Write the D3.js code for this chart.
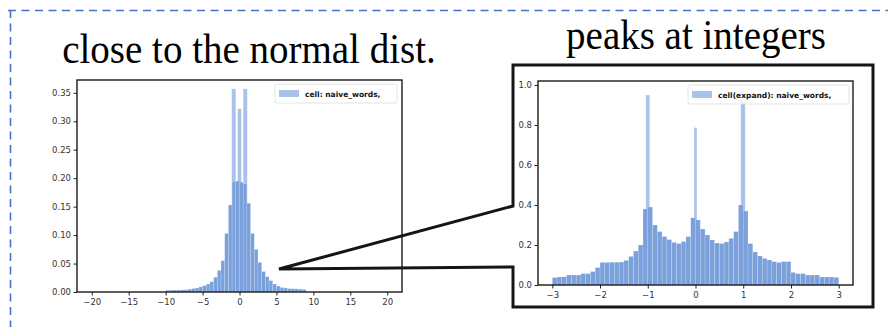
<!DOCTYPE html>
<html>
<head>
<meta charset="utf-8">
<script src="https://cdn.jsdelivr.net/npm/d3@7"></script>
<style>
  body { margin: 0; background: #fff; }
  svg { display: block; }
</style>
</head>
<body>
<svg id="chart" width="888" height="327"></svg>
<script>
// Data

// left panel: bin starts (width 0.5) and densities
const leftBins = [-10, -9.5, -9, -8.5, -8, -7.5, -7, -6.5, -6, -5.5, -5, -4.5, -4, -3.5, -3, -2.5, -2, -1.5, -1, -0.5,
  0, 0.5, 1, 1.5, 2, 2.5, 3, 3.5, 4, 4.5, 5, 5.5, 6, 6.5, 7, 7.5, 8, 8.5, 9, 9.5];
const leftValues = [0.003, 0.0032, 0.0034, 0.0035, 0.0036, 0.004, 0.005, 0.006, 0.007, 0.009, 0.011, 0.014, 0.018, 0.026, 0.038, 0.055, 0.103, 0.153, 0.194, 0.195,
  0.193, 0.19, 0.156, 0.103, 0.075, 0.052, 0.036, 0.027, 0.02, 0.014, 0.0105, 0.008, 0.007, 0.006, 0.0058, 0.0055, 0.005, 0.0045, 0, 0];
const leftBinWidth = 0.5;
const leftSpikeX0 = [-1.05, -0.25, 0.5];
const leftSpikeX1 = [-0.5, 0.25, 1.05];
const leftSpikeValues = [0.357, 0.322, 0.357];
const leftYTicks = [0, 0.05, 0.1, 0.15, 0.2, 0.25, 0.3, 0.35];
const leftXTicks = [-20, -15, -10, -5, 0, 5, 10, 15, 20];

// right panel: bin starts (width 0.1) and densities
const rightBins = [-3.0, -2.9, -2.8, -2.7, -2.6, -2.5, -2.4, -2.3, -2.2, -2.1, -2.0, -1.9, -1.8, -1.7, -1.6, -1.5, -1.4, -1.3, -1.2, -1.1,
  -1.0, -0.9, -0.8, -0.7, -0.6, -0.5, -0.4, -0.3, -0.2, -0.1, 0.0, 0.1, 0.2, 0.3, 0.4, 0.5, 0.6, 0.7, 0.8, 0.9,
  1.0, 1.1, 1.2, 1.3, 1.4, 1.5, 1.6, 1.7, 1.8, 1.9, 2.0, 2.1, 2.2, 2.3, 2.4, 2.5, 2.6, 2.7, 2.8, 2.9];
const rightValues = [0.037, 0.04, 0.041, 0.05, 0.05, 0.05, 0.057, 0.057, 0.067, 0.087, 0.113, 0.113, 0.114, 0.114, 0.115, 0.123, 0.143, 0.17, 0.2, 0.38,
  0.39, 0.3, 0.267, 0.242, 0.227, 0.213, 0.207, 0.217, 0.242, 0.336, 0.325, 0.28, 0.25, 0.225, 0.21, 0.207, 0.215, 0.233, 0.267, 0.4,
  0.37, 0.207, 0.165, 0.145, 0.133, 0.125, 0.117, 0.113, 0.117, 0.117, 0.063, 0.057, 0.057, 0.05, 0.05, 0.05, 0.04, 0.04, 0.04, 0.038];
const rightBinWidth = 0.1;
const rightSpikeX0 = [-1.04, -0.03, 0.95];
const rightSpikeX1 = [-0.96, 0.03, 1.04];
const rightSpikeValues = [0.95, 0.787, 0.97];
const rightYTicks = [0, 0.2, 0.4, 0.6, 0.8, 1.0];
const rightXTicks = [-3, -2, -1, 0, 1, 2, 3];

const titles = ["close to the normal dist.", "peaks at integers"];
const legends = ["cell: naive_words,", "cell(expand): naive_words,"];

// Style

const bodyColor = "#7aa1dc";
const spikeColor = "#a8c2ea";
const svg = d3.select("#chart");

// dashed outer border
svg.append("path")
  .attr("d", "M8,10.5 L888,10.5 M10.5,10 L10.5,327")
  .attr("fill", "none")
  .attr("stroke", "#4472c4")
  .attr("stroke-width", 1.6)
  .attr("stroke-dasharray", "8,5.5");

// titles (slightly tall, like the source image)
svg.append("text")
  .attr("transform", "translate(249,63) scale(1,1.08)")
  .attr("text-anchor", "middle")
  .style("font-family", "'Liberation Serif', 'Times New Roman', serif")
  .style("font-size", "39px")
  .text(titles[0]);
svg.append("text")
  .attr("transform", "translate(696,49) scale(1,1.08)")
  .attr("text-anchor", "middle")
  .style("font-family", "'Liberation Serif', 'Times New Roman', serif")
  .style("font-size", "39px")
  .text(titles[1]);

// zoom callout
svg.append("path")
  .attr("d", "M279,269 L513,206 L513,65 L873,65 L873,307 L513,307 L513,267 Z")
  .attr("fill", "none")
  .attr("stroke", "#151515")
  .attr("stroke-width", 3)
  .attr("stroke-linejoin", "miter");

function drawPanel(p) {
  const x = d3.scaleLinear().domain(p.xDomain).range([p.left, p.right]);
  const y = d3.scaleLinear().domain(p.yDomain).range([p.bottom, p.top]);
  const g = svg.append("g");

  // spikes below the body bars
  g.selectAll("rect.spike")
    .data(p.spikeValues)
    .enter().append("rect")
    .attr("class", "spike")
    .attr("x", (d, i) => x(p.spikeX0[i]))
    .attr("width", (d, i) => x(p.spikeX1[i]) - x(p.spikeX0[i]))
    .attr("y", d => y(d))
    .attr("height", d => y(0) - y(d))
    .attr("fill", spikeColor)
    .attr("stroke", "#fff")
    .attr("stroke-opacity", 0.35)
    .attr("stroke-width", 0.5);

  g.selectAll("rect.bar")
    .data(p.values)
    .enter().append("rect")
    .attr("class", "bar")
    .attr("x", (d, i) => x(p.bins[i]))
    .attr("width", (d, i) => x(p.bins[i] + p.binWidth) - x(p.bins[i]))
    .attr("y", d => y(d))
    .attr("height", d => y(0) - y(d))
    .attr("fill", bodyColor)
    .attr("stroke", "#fff")
    .attr("stroke-opacity", 0.35)
    .attr("stroke-width", 0.5);

  // axes
  const ax = g.append("g")
    .attr("transform", "translate(0," + p.bottom + ")")
    .call(d3.axisBottom(x).tickValues(p.xTicks).tickSize(3.5).tickPadding(3).tickFormat(d3.format("d")));
  const ay = g.append("g")
    .attr("transform", "translate(" + p.left + ",0)")
    .call(d3.axisLeft(y).tickValues(p.yTicks).tickSize(3.5).tickPadding(2.5).tickFormat(d3.format(p.yFormat)));
  [ax, ay].forEach(a => {
    a.select(".domain").remove();
    a.selectAll("line").attr("stroke", "#222").attr("stroke-width", 1);
    a.selectAll("text")
      .attr("fill", "#333")
      .style("font-family", "'DejaVu Sans', sans-serif")
      .style("font-size", "8.5px");
  });

  // frame
  g.append("rect")
    .attr("x", p.left).attr("y", p.top)
    .attr("width", p.right - p.left).attr("height", p.bottom - p.top)
    .attr("fill", "none")
    .attr("stroke", "#1a1a1a")
    .attr("stroke-width", 1.4);

  // legend
  const lg = g.append("g").attr("transform", "translate(" + p.legendX + "," + p.legendY + ")");
  lg.append("rect")
    .attr("width", p.legendW).attr("height", 19).attr("rx", 2)
    .attr("fill", "#fff").attr("fill-opacity", 0.85)
    .attr("stroke", "#ddd").attr("stroke-width", 0.8);
  lg.append("rect")
    .attr("x", 4).attr("y", 6).attr("width", 20).attr("height", 7)
    .attr("fill", spikeColor);
  lg.append("text")
    .attr("x", 30).attr("y", 12.5)
    .attr("fill", "#111")
    .style("font-family", "'DejaVu Sans', sans-serif")
    .style("font-size", "7.5px")
    .style("font-weight", "bold")
    .text(p.legend);
}

drawPanel({
  bins: leftBins, values: leftValues, binWidth: leftBinWidth,
  spikeX0: leftSpikeX0, spikeX1: leftSpikeX1, spikeValues: leftSpikeValues,
  xTicks: leftXTicks, yTicks: leftYTicks, yFormat: ".2f",
  xDomain: [-22, 22], yDomain: [0, 0.3725],
  left: 77, right: 402, top: 80, bottom: 292,
  legend: legends[0], legendX: 275, legendY: 84, legendW: 122
});

drawPanel({
  bins: rightBins, values: rightValues, binWidth: rightBinWidth,
  spikeX0: rightSpikeX0, spikeX1: rightSpikeX1, spikeValues: rightSpikeValues,
  xTicks: rightXTicks, yTicks: rightYTicks, yFormat: ".1f",
  xDomain: [-3.3, 3.3], yDomain: [0, 1.02],
  left: 538, right: 853, top: 81, bottom: 285,
  legend: legends[1], legendX: 688, legendY: 85, legendW: 161
});
</script>
</body>
</html>
